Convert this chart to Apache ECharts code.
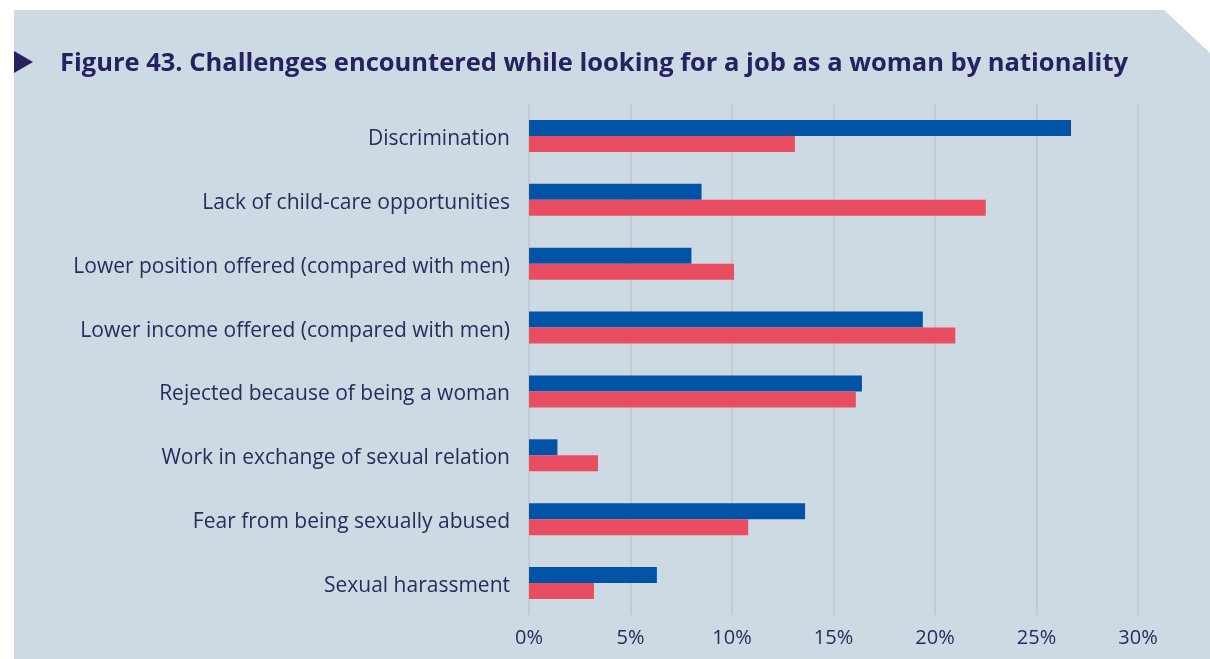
<!DOCTYPE html>
<html>
<head>
<meta charset="utf-8">
<script src="https://cdn.jsdelivr.net/npm/echarts@6/dist/echarts.min.js"></script>
<style>
  html, body { margin: 0; padding: 0; background: #ffffff; }
  #chart { width: 1210px; height: 659px; }
</style>
</head>
<body>
<div id="chart"></div>
<script>
// Challenges encountered while looking for a job as a woman, by nationality (share of respondents, %)
const titleText = 'Figure 43. Challenges encountered while looking for a job as a woman by nationality';
const categories = [
  'Discrimination',
  'Lack of child-care opportunities',
  'Lower position offered (compared with men)',
  'Lower income offered (compared with men)',
  'Rejected because of being a woman',
  'Work in exchange of sexual relation',
  'Fear from being sexually abused',
  'Sexual harassment'
];
const groupA = [26.7, 8.5, 8.0, 19.4, 16.4, 1.4, 13.6, 6.3];
const groupB = [13.1, 22.5, 10.1, 21.0, 16.1, 3.4, 10.8, 3.2];
const xTicks = [0, 5, 10, 15, 20, 25, 30];

const textColor = '#2b2a5c';
const panelColor = '#cddae3';
const font = '"Open Sans", "Noto Sans", sans-serif';

const chart = echarts.init(document.getElementById('chart'), null, { renderer: 'canvas' });

chart.setOption({
  backgroundColor: '#ffffff',
  animation: false,
  graphic: [
    {
      // panel with a clipped top-right corner
      type: 'polygon',
      z: -10,
      silent: true,
      shape: { points: [[14, 10], [1164, 10], [1210, 53], [1210, 659], [14, 659]] },
      style: { fill: panelColor }
    },
    {
      // heading marker
      type: 'polygon',
      silent: true,
      shape: { points: [[14, 51], [33, 62], [14, 73]] },
      style: { fill: '#262262' }
    }
  ],
  title: {
    text: titleText,
    left: 55,
    top: 46,
    textStyle: {
      fontFamily: font,
      fontWeight: 'bold',
      fontSize: 25.5,
      color: '#262262'
    }
  },
  grid: { left: 529, right: 72, top: 104, bottom: 44, containLabel: false },
  xAxis: {
    type: 'value',
    min: xTicks[0],
    max: xTicks[xTicks.length - 1],
    interval: xTicks[1] - xTicks[0],
    axisLine: { show: false },
    axisTick: { show: false },
    axisLabel: {
      formatter: '{value}%',
      margin: 13,
      fontFamily: font,
      fontSize: 20,
      color: textColor
    },
    splitLine: { show: true, lineStyle: { color: '#c0c4c9', width: 1.5 } }
  },
  yAxis: {
    type: 'category',
    data: categories,
    inverse: true,
    axisLine: { show: false },
    axisTick: { show: false },
    axisLabel: {
      margin: 19,
      fontFamily: font,
      fontSize: 21,
      color: textColor,
      verticalAlign: 'top',
      lineHeight: 6
    }
  },
  series: [
    {
      name: 'A',
      type: 'bar',
      data: groupA,
      barWidth: 16,
      barGap: '0%',
      itemStyle: { color: '#0053a5' }
    },
    {
      name: 'B',
      type: 'bar',
      data: groupB,
      barWidth: 16,
      barGap: '0%',
      itemStyle: { color: '#e94d61' }
    }
  ]
});
</script>
</body>
</html>
